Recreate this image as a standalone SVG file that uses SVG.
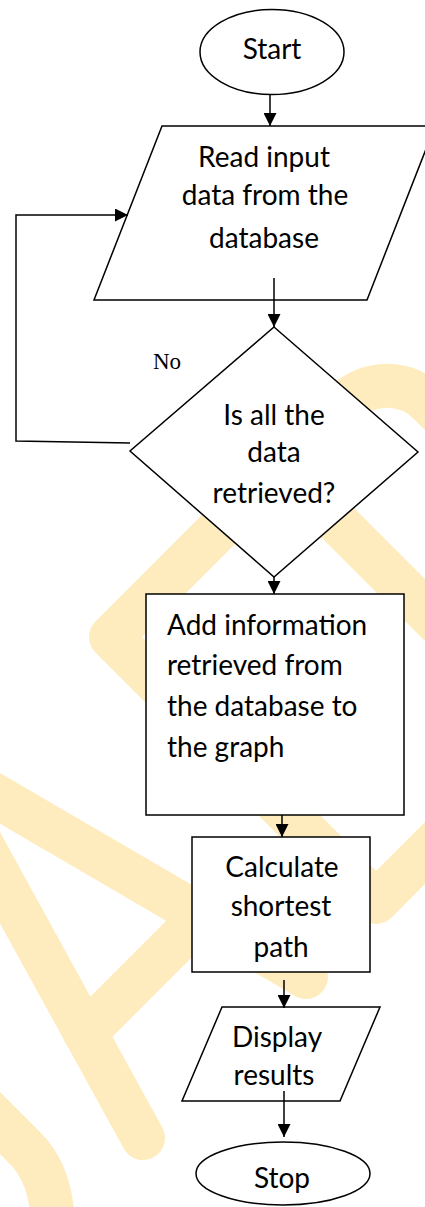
<svg xmlns="http://www.w3.org/2000/svg" width="425" height="1207" viewBox="0 0 425 1207">
  <style>
    .wm { fill: none; stroke: #FFECBE; stroke-width: 44; stroke-linejoin: round; stroke-linecap: round; }
    .node { fill: #FFFFFF; stroke: #000000; stroke-width: 1.5; }
    .conn { fill: none; stroke: #000000; stroke-width: 1.5; }
    .lbl { font-family: Lato, "Noto Sans", "Liberation Sans", sans-serif; font-size: 28px; fill: #000000; }
    .mid { text-anchor: middle; }
    .no { font-family: "Liberation Serif", "Times New Roman", serif; font-size: 23px; fill: #000000; }
  </style>
  <defs>
    <marker id="arrow" viewBox="0 0 10 10" refX="10" refY="5" markerWidth="13" markerHeight="13" markerUnits="userSpaceOnUse" orient="auto">
      <path d="M0,0 L10,5 L0,10 z" fill="#000000"/>
    </marker>
  </defs>
  <rect x="0" y="0" width="425" height="1207" fill="#FFFFFF"/>

  <g id="watermark">
    <path class="wm" d="M 470 444 L 429.4 403.4 A 60 60 0 0 0 344.6 403.4 L 111 637 L 376 902 L 510 768"/>
    <path class="wm" d="M 285 470 L 460 645"/>
    <path class="wm" d="M -40 775 L 306 977"/>
    <path class="wm" d="M -40 805 L 143 1138"/>
    <path class="wm" d="M 85 1033 L 202 916"/>
    <path class="wm" d="M -30 1093 L 25 1148 Q 53 1176 53 1230"/>
  </g>

  <g id="start">
    <ellipse class="node" cx="272" cy="52" rx="72" ry="42.5"/>
    <text class="lbl mid" x="272" y="59">Start</text>
  </g>
  <g id="read-input">
    <polygon class="node" points="162,126 435,126 367,300 94,300"/>
    <text class="lbl mid" x="264" y="167">Read input</text>
    <text class="lbl mid" x="265" y="205">data from the</text>
    <text class="lbl mid" x="264" y="248">database</text>
  </g>
  <g id="decision">
    <polygon class="node" points="274,327 418,452 274,577 130,451"/>
    <text class="lbl mid" x="274" y="425">Is all the</text>
    <text class="lbl mid" x="274" y="462">data</text>
    <text class="lbl mid" x="274" y="503">retrieved?</text>
  </g>
  <g id="add-info">
    <rect class="node" x="146" y="594" width="258" height="221"/>
    <text class="lbl" x="167" y="635">Add information</text>
    <text class="lbl" x="167" y="675">retrieved from</text>
    <text class="lbl" x="167" y="716">the database to</text>
    <text class="lbl" x="167" y="757">the graph</text>
  </g>
  <g id="calculate">
    <rect class="node" x="192" y="837" width="178" height="135"/>
    <text class="lbl mid" x="282" y="877">Calculate</text>
    <text class="lbl mid" x="281" y="916">shortest</text>
    <text class="lbl mid" x="281" y="957">path</text>
  </g>
  <g id="display">
    <polygon class="node" points="222,1007 380,1007 340,1101 182,1101"/>
    <text class="lbl mid" x="277" y="1047">Display</text>
    <text class="lbl mid" x="274" y="1085">results</text>
  </g>
  <g id="stop">
    <ellipse class="node" cx="283" cy="1173.5" rx="87" ry="31.5"/>
    <text class="lbl mid" x="282" y="1188">Stop</text>
  </g>

  <g id="connectors">
    <line class="conn" x1="270" y1="95" x2="270" y2="126" marker-end="url(#arrow)"/>
    <line class="conn" x1="274" y1="278" x2="274" y2="327" marker-end="url(#arrow)"/>
    <polyline class="conn" points="130,443 16,441 16,215 128,215" marker-end="url(#arrow)"/>
    <line class="conn" x1="274" y1="577" x2="274" y2="594" marker-end="url(#arrow)"/>
    <line class="conn" x1="282" y1="815" x2="282" y2="837" marker-end="url(#arrow)"/>
    <line class="conn" x1="284" y1="980" x2="284" y2="1008" marker-end="url(#arrow)"/>
    <line class="conn" x1="284" y1="1091" x2="284" y2="1137" marker-end="url(#arrow)"/>
    <text class="no" x="153" y="369">No</text>
  </g>
</svg>
